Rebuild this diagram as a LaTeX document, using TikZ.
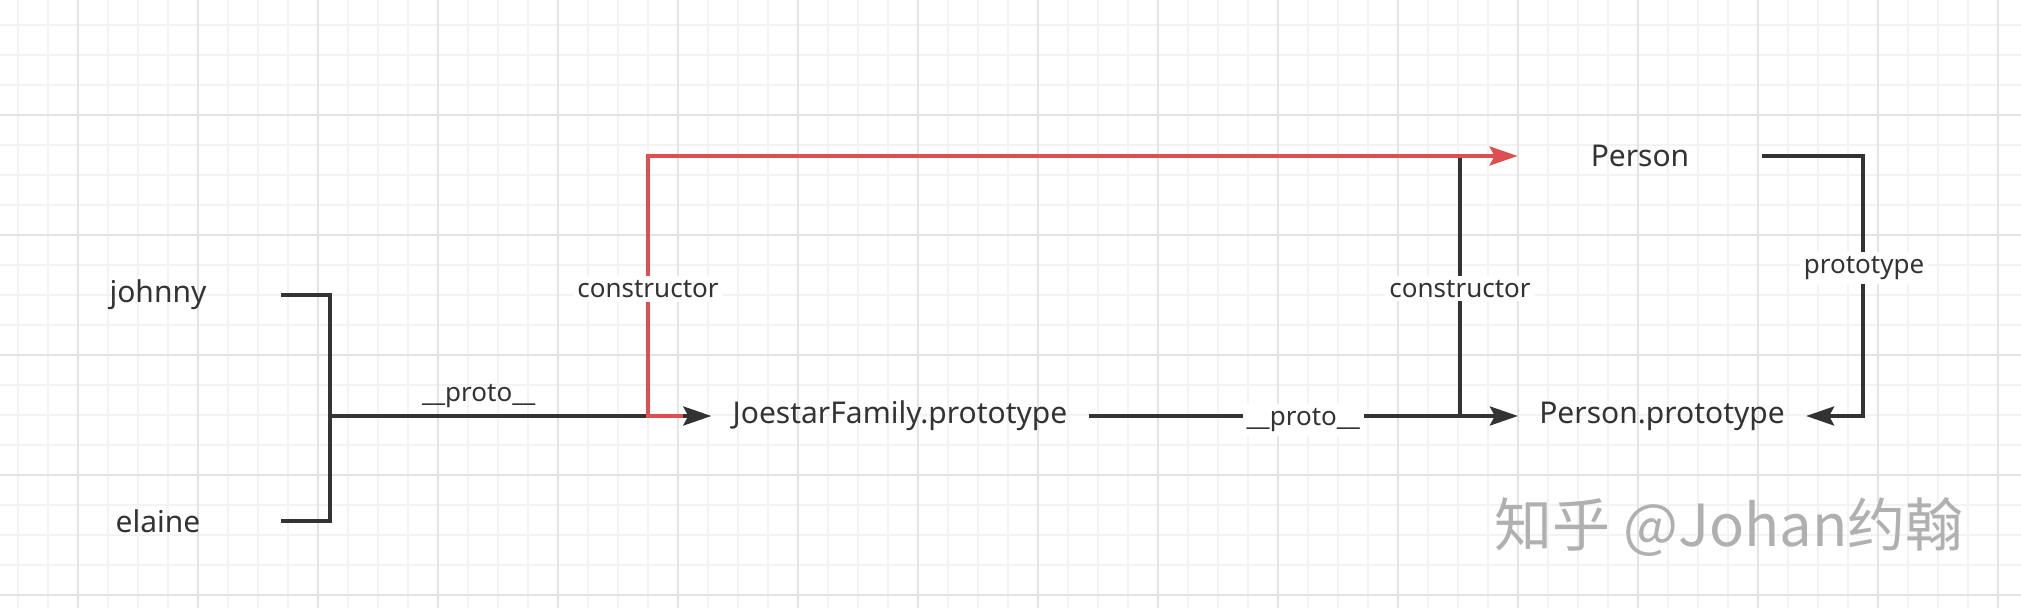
\documentclass[tikz,border=0pt]{standalone}
\usepackage{fontspec}
\setmainfont{Noto Sans}
\newfontfamily\cjk{Noto Sans CJK SC}
\usetikzlibrary{arrows.meta}
\definecolor{ink}{HTML}{333333}
\definecolor{redl}{HTML}{DD5050}
\definecolor{gmin}{HTML}{F3F3F3}
\definecolor{gmaj}{HTML}{E4E4E4}
\definecolor{wm}{HTML}{B0B0B0}
\begin{document}
\begin{tikzpicture}[x=0.5pt,y=-0.5pt,
  obj/.style={text=ink, font=\fontsize{15}{18}\selectfont, inner xsep=10.5pt, inner ysep=2pt},
  lbl/.style={text=ink, font=\fontsize{13}{15}\selectfont, fill=white, inner sep=2pt},
  ln/.style={draw=ink, line width=1.8pt},
  rl/.style={draw=redl, line width=1.8pt},
  arr/.style={-{Stealth[length=14pt,width=9.5pt,inset=2.5pt]}},
  gminor/.style={draw=gmin, line width=0.6pt},
  gmajor/.style={draw=gmaj, line width=0.8pt}]
\useasboundingbox (0,0) rectangle (2021,608);
\fill[white] (0,0) rectangle (2021,608);
% grid
\foreach \x in {18,48,...,2021} \draw[gminor] (\x,0) -- (\x,608);
\foreach \y in {25,55,...,608} \draw[gminor] (0,\y) -- (2021,\y);
\foreach \x in {78,198,...,2021} \draw[gmajor] (\x,0) -- (\x,608);
\foreach \y in {115,235,...,608} \draw[gmajor] (0,\y) -- (2021,\y);
% nodes
\node[obj, minimum width=123pt] (johnny) at (158,295) {johnny};
\node[obj, minimum width=123pt] (elaine) at (158,521) {elaine};
\node[obj] (jf) at (900,416) {JoestarFamily.prototype};
\node[obj, minimum width=122pt] (person) at (1640,156) {Person};
\node[obj] (pp) at (1662,416) {Person.prototype};
\coordinate (bx) at (330,416);
\coordinate (rc) at (648,416);
\coordinate (cb) at (1460,416);
\coordinate (ct) at (1460,156);
\coordinate (pr) at (1863,416);
% connectors
\draw[ln] (johnny.east) -| (bx) |- (elaine.east);
\draw[ln, arr] (bx) -- (jf.west) node[lbl, fill=none, pos=0.39, anchor=south, inner sep=3pt] {\_\_proto\_\_};
\draw[ln, arr] (jf.east) -- (pp.west) node[lbl, midway, yshift=-2pt] {\_\_proto\_\_};
\draw[ln] (cb) -- (ct) node[lbl, pos=0.49] {constructor};
\draw[rl, arr, shorten <=14pt] (jf.west) -- (rc) |- (person.west) node[lbl, pos=0.244] {constructor};
\draw[ln, arr] (person.east) -| (pr) -- (pp.east);
\node[lbl] (plbl) at (1864,268) {prototype};
% watermark
\node[text=wm, font=\cjk\fontsize{29}{32}\selectfont] (wmk) at (1729,527) {知乎 @Johan约翰};
\end{tikzpicture}
\end{document}
